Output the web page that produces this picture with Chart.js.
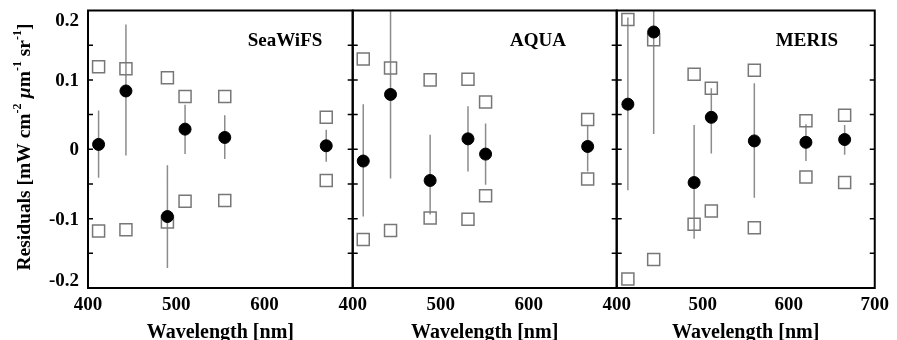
<!DOCTYPE html>
<html><head><meta charset="utf-8">
<script src="https://cdn.jsdelivr.net/npm/chart.js@4.4.0/dist/chart.umd.min.js"></script>
<style>
html,body{margin:0;padding:0;background:#fff;}
#wrap{position:relative;width:897px;height:340px;overflow:hidden;background:#fff;}
canvas{position:absolute;left:0;top:0;}
</style></head><body>
<div id="wrap">
<canvas id="c1" width="897" height="340"></canvas>
<canvas id="c2" width="897" height="340"></canvas>
<canvas id="c3" width="897" height="340"></canvas>
</div>
<script>
// ---- data ----
const panelTitles = ['SeaWiFS', 'AQUA', 'MERIS'];

const swWl      = [412, 443, 490, 510, 555, 670];
const swRes     = [0.007, 0.084, -0.097, 0.029, 0.017, 0.005];
const swErrLow  = [-0.041, -0.009, -0.171, -0.007, -0.014, -0.018];
const swErrHigh = [0.056, 0.180, -0.023, 0.064, 0.049, 0.028];
const swUpper   = [0.119, 0.116, 0.103, 0.076, 0.076, 0.046];
const swLower   = [-0.118, -0.116, -0.105, -0.075, -0.074, -0.045];

const aqWl      = [412, 443, 488, 531, 551, 667];
const aqRes     = [-0.017, 0.079, -0.045, 0.015, -0.007, 0.004];
const aqErrLow  = [-0.097, -0.042, -0.094, -0.032, -0.051, -0.032];
const aqErrHigh = [0.065, 0.250, 0.021, 0.062, 0.037, 0.035];
const aqUpper   = [0.130, 0.117, 0.100, 0.101, 0.068, 0.043];
const aqLower   = [-0.130, -0.117, -0.099, -0.101, -0.067, -0.043];

const mrWl      = [413, 443, 490, 510, 560, 620, 665];
const mrRes     = [0.065, 0.169, -0.048, 0.046, 0.012, 0.010, 0.014];
const mrErrLow  = [-0.059, 0.022, -0.129, -0.006, -0.070, -0.017, -0.008];
const mrErrHigh = [0.190, 0.250, 0.035, 0.088, 0.095, 0.036, 0.035];
const mrUpper   = [0.187, 0.158, 0.108, 0.088, 0.114, 0.041, 0.049];
const mrLower   = [-0.187, -0.159, -0.108, -0.089, -0.113, -0.040, -0.048];

const yTickValues = [-0.2, -0.1, 0, 0.1, 0.2];
const yTickLabels = ['-0.2', '-0.1', '0', '0.1', '0.2'];
const yMinorTicks = [-0.15, -0.1, -0.05, 0, 0.05, 0.1, 0.15];
const xTickLabels = ['400', '500', '600', '700'];
const xTitle = 'Wavelength [nm]';

// ---- styling ----
const FONT = '"Liberation Serif","DejaVu Serif","Times New Roman",serif';
const W = 897, H = 340;

const panels = [
  {id:'c1', title:panelTitles[0], titleX:285, wl:swWl, res:swRes, lo:swErrLow, hi:swErrHigh, up:swUpper, dn:swLower, left:88,    right:352.7, last:false, yAxis:true},
  {id:'c2', title:panelTitles[1], titleX:538, wl:aqWl, res:aqRes, lo:aqErrLow, hi:aqErrHigh, up:aqUpper, dn:aqLower, left:352.7, right:616.7, last:false, yAxis:false},
  {id:'c3', title:panelTitles[2], titleX:807, wl:mrWl, res:mrRes, lo:mrErrLow, hi:mrErrHigh, up:mrUpper, dn:mrLower, left:616.7, right:880.7, last:true,  yAxis:false}
];

function pts(xs, ys){ return xs.map((x,i)=>({x:x, y:ys[i]})); }
function errSegments(xs, lo, hi){
  const out = [];
  xs.forEach((x,i)=>{ out.push({x:x,y:lo[i]}, {x:x,y:hi[i]}, {x:x,y:null}); });
  return out;
}

function framePlugin(p){
  return {
    id:'frame'+p.id,
    afterDraw(chart){
      const ctx = chart.ctx, a = chart.chartArea, ys = chart.scales.y;
      ctx.save();
      // frame
      ctx.strokeStyle = '#000'; ctx.lineWidth = 2;
      ctx.strokeRect(a.left, a.top, a.right - a.left, a.bottom - a.top);
      // inward ticks
      ctx.lineWidth = 1.5;
      yMinorTicks.forEach(v=>{
        const y = ys.getPixelForValue(v);
        ctx.beginPath();
        ctx.moveTo(a.left, y); ctx.lineTo(a.left + 5, y);
        ctx.moveTo(a.right, y); ctx.lineTo(a.right - 5, y);
        ctx.stroke();
      });
      // panel title
      ctx.fillStyle = '#000';
      ctx.font = 'bold 19px ' + FONT;
      ctx.textAlign = 'center'; ctx.textBaseline = 'middle';
      ctx.fillText(p.title, p.titleX, 41);
      if (p.yAxis){
        // y tick labels
        ctx.font = 'bold 19px ' + FONT;
        ctx.textAlign = 'right';
        yTickValues.forEach((v,i)=>{
          let y = ys.getPixelForValue(v);
          y = Math.min(Math.max(y, a.top + 9.5), a.bottom - 8);
          ctx.fillText(yTickLabels[i], 79, y + 1);
        });
        // y title with superscripts
        ctx.translate(25, 147);
        ctx.rotate(-Math.PI/2);
        const main = 'bold 19.5px ' + FONT, sup = 'bold 12px ' + FONT, ital = 'italic bold 19.5px ' + FONT;
        const segs = [
          {t:'Residuals [mW cm', f:main, dy:0},
          {t:'-2', f:sup, dy:-7},
          {t:' ', f:main, dy:0},
          {t:'\u00B5', f:ital, dy:0},
          {t:'m', f:main, dy:0},
          {t:'-1', f:sup, dy:-7},
          {t:' sr', f:main, dy:0},
          {t:'-1', f:sup, dy:-7},
          {t:']', f:main, dy:0}
        ];
        let total = 0;
        segs.forEach(s=>{ ctx.font = s.f; s.w = ctx.measureText(s.t).width; total += s.w; });
        let x = -total/2;
        ctx.textAlign = 'left'; ctx.textBaseline = 'middle';
        segs.forEach(s=>{ ctx.font = s.f; ctx.fillText(s.t, x, s.dy); x += s.w; });
      }
      ctx.restore();
    }
  };
}

panels.forEach(p=>{
  new Chart(document.getElementById(p.id), {
    type:'scatter',
    data:{
      datasets:[
        {type:'line', data:errSegments(p.wl, p.lo, p.hi), borderColor:'#8c8c8c', borderWidth:1.5,
         pointRadius:0, showLine:true, spanGaps:false, order:3},
        {data:pts(p.wl, p.up), pointStyle:'rect', pointRadius:8.5, borderColor:'#777', borderWidth:1.5,
         backgroundColor:'rgba(0,0,0,0)', order:2},
        {data:pts(p.wl, p.dn), pointStyle:'rect', pointRadius:8.5, borderColor:'#777', borderWidth:1.5,
         backgroundColor:'rgba(0,0,0,0)', order:2},
        {data:pts(p.wl, p.res), pointStyle:'circle', pointRadius:6, borderColor:'#000', borderWidth:1,
         backgroundColor:'#000', order:1}
      ]
    },
    options:{
      responsive:false, animation:false, events:[],
      layout:{padding:{left:p.left, right:W - p.right, top:10.5, bottom:0}},
      plugins:{legend:{display:false}, tooltip:{enabled:false}},
      scales:{
        x:{type:'linear', min:400, max:700,
           grid:{display:false, drawTicks:false}, border:{display:false},
           ticks:{stepSize:100, padding:8, color:'#000', maxRotation:0, autoSkip:false,
                  font:{family:FONT, size:19, weight:'bold', lineHeight:1},
                  callback:(v)=>{ const i = xTickLabels.indexOf(String(v)); if (i < 0) return null; if (!p.last && i === xTickLabels.length-1) return null; return xTickLabels[i]; }},
           title:{display:true, text:xTitle, color:'#000', padding:{top:0, bottom:0},
                  font:{family:FONT, size:20, weight:'bold', lineHeight:0.75}},
           afterFit:(s)=>{ s.height = 52; }
        },
        y:{type:'linear', min:-0.2, max:0.2, display:false}
      }
    },
    plugins:[framePlugin(p)]
  });
});
</script>
</body></html>
